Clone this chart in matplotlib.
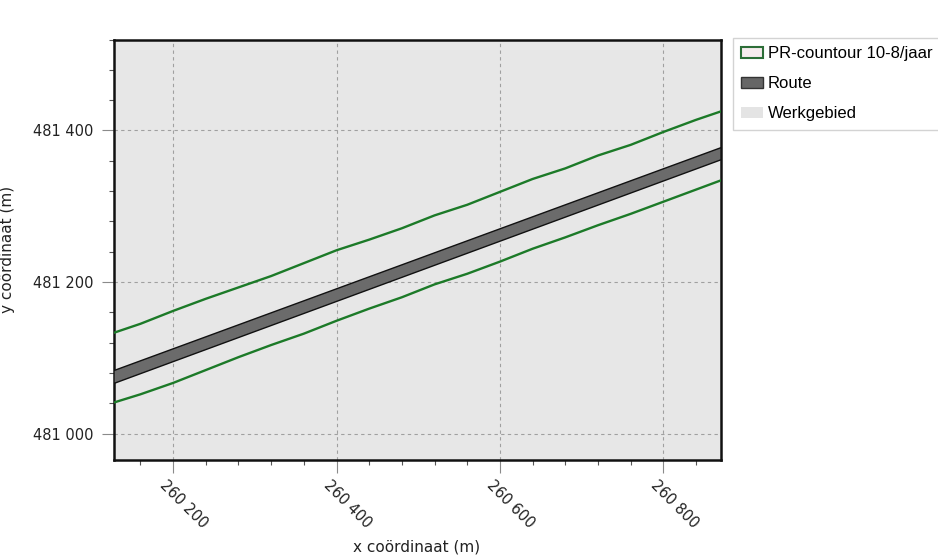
import matplotlib
matplotlib.use("Agg")
import matplotlib.pyplot as plt
from matplotlib.patches import Patch
from matplotlib.ticker import MultipleLocator, FuncFormatter
from matplotlib.transforms import ScaledTranslation

# ====== data ======
x_contour = [260127, 260160, 260200, 260240, 260280, 260320, 260360, 260400,
             260440, 260480, 260520, 260560, 260600, 260640, 260680, 260720,
             260760, 260800, 260840, 260870]
upper_contour = [481133, 481145, 481162, 481178, 481193, 481208, 481225, 481242,
                 481256, 481271, 481288, 481302, 481319, 481336, 481350, 481367,
                 481381, 481398, 481414, 481425]
lower_contour = [481041, 481052, 481067, 481084, 481101, 481117, 481132, 481149,
                 481165, 481180, 481197, 481211, 481227, 481244, 481259, 481275,
                 481290, 481306, 481322, 481334]

x_route = [260127, 260870]
route_top = [481084, 481378]
route_bottom = [481067, 481362]

x_major = [260200, 260400, 260600, 260800]
y_major = [481000, 481200, 481400]
legend_labels = ["PR-countour 10-8/jaar", "Route", "Werkgebied"]

# ====== figure ======
fig = plt.figure(figsize=(9.38, 5.58), dpi=100)
ax = fig.add_axes([113.5 / 938, 1 - 459.5 / 558, 607 / 938, 420 / 558])
ax.set_facecolor("#e7e7e7")

ax.fill_between(x_route, route_bottom, route_top, facecolor="#6b6b6b",
                edgecolor="#111111", linewidth=1.0, zorder=3)
ax.plot(x_contour, upper_contour, color="#1c7a28", linewidth=1.7, zorder=4)
ax.plot(x_contour, lower_contour, color="#1c7a28", linewidth=1.7, zorder=4)

ax.set_xlim(260127, 260870)
ax.set_ylim(480966, 481520)

ax.set_xticks(x_major)
ax.set_yticks(y_major)
ax.xaxis.set_minor_locator(MultipleLocator(40))
ax.yaxis.set_minor_locator(MultipleLocator(40))
fmt = FuncFormatter(lambda v, p: f"{v:,.0f}".replace(",", " "))
ax.xaxis.set_major_formatter(fmt)
ax.yaxis.set_major_formatter(fmt)

ax.grid(True, which="major", color="#a0a0a0", linestyle=(0, (3, 3)), linewidth=0.8)
ax.set_axisbelow(True)

ax.tick_params(which="major", direction="out", length=9, width=0.8,
               color="#8a8a8a", labelsize=10.5, labelcolor="#222222")
ax.tick_params(which="minor", direction="out", length=3.5, width=0.8,
               color="#555555")
ax.tick_params(axis="y", which="major", pad=5.5)
ax.tick_params(axis="x", which="major", pad=4, labelrotation=-45)

shift = ScaledTranslation(11 / 100, 0, fig.dpi_scale_trans)
for lab in ax.get_xticklabels():
    lab.set_ha("center")
    lab.set_transform(lab.get_transform() + shift)

for s in ax.spines.values():
    s.set_linewidth(1.8)
    s.set_color("#111111")

ax.set_xlabel("x coördinaat (m)", fontsize=11, color="#222222")
ax.set_ylabel("y coördinaat (m)", fontsize=11, color="#222222")
ax.xaxis.set_label_coords(0.5, -0.19)
ax.yaxis.set_label_coords(-0.162, 0.5)

# ====== legend ======
handles = [
    Patch(facecolor="#f7ecef", edgecolor="#2d6e38", linewidth=1.5),
    Patch(facecolor="#666666", edgecolor="#333333", linewidth=1.0),
    Patch(facecolor="#e4e4e4", edgecolor="none"),
]
leg = fig.legend(handles, legend_labels, loc="upper left",
                 bbox_to_anchor=(733 / 938, 1 - 38 / 558),
                 bbox_transform=fig.transFigure, borderaxespad=0,
                 frameon=True, fancybox=False, edgecolor="#c8c8c8",
                 prop={"family": "Liberation Sans", "size": 12},
                 handlelength=1.3, handleheight=0.7, handletextpad=0.3,
                 labelspacing=0.9, borderpad=0.5)
leg.get_frame().set_linewidth(1.0)

fig.savefig("out.png", dpi=100)
